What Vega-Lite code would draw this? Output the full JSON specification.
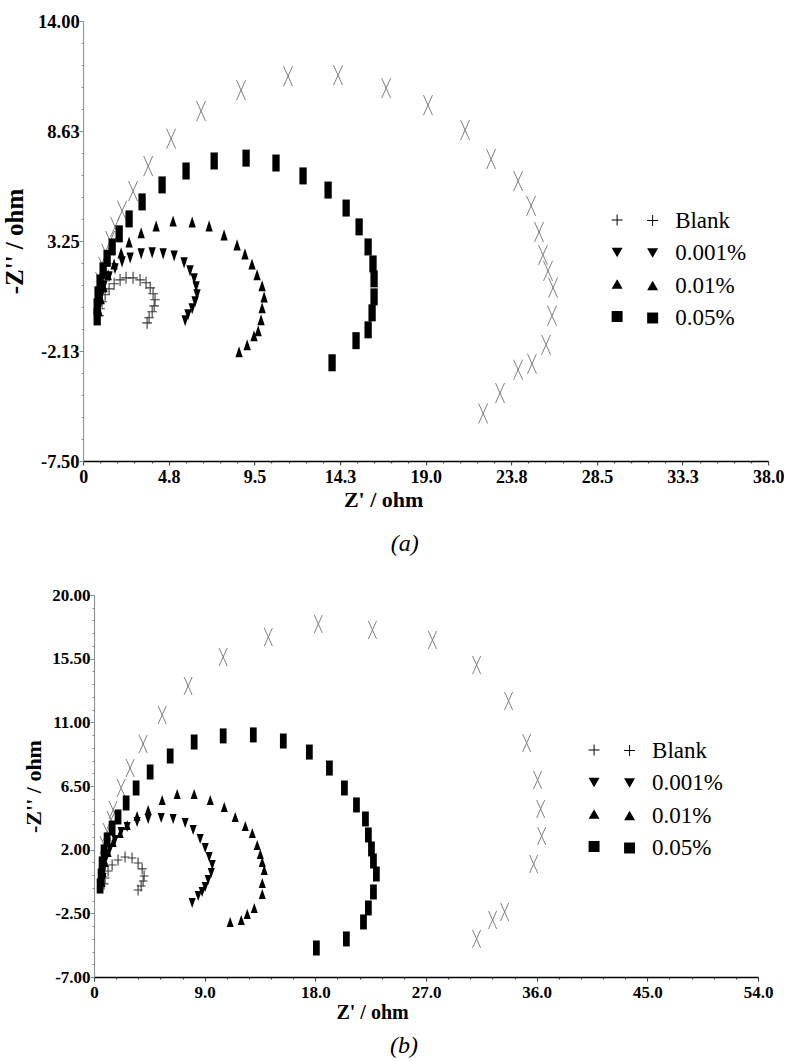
{
  "$schema": "https://vega.github.io/schema/vega-lite/v6.json",
  "padding": {"left": 2, "top": 12, "right": 0, "bottom": 0},
  "background": "white",
  "config": {"view": {"stroke": null}},
  "datasets": {
    "a": [
      {"s": "0.1%", "x": 0.94, "y": 1.25}, {"s": "0.1%", "x": 1.11, "y": 1.99}, {"s": "0.1%", "x": 1.28, "y": 2.62}, {"s": "0.1%", "x": 1.50, "y": 3.25}, {"s": "0.1%", "x": 1.77, "y": 3.94}, {"s": "0.1%", "x": 2.16, "y": 4.72}, {"s": "0.1%", "x": 2.77, "y": 5.69}, {"s": "0.1%", "x": 3.61, "y": 6.91}, {"s": "0.1%", "x": 4.88, "y": 8.25}, {"s": "0.1%", "x": 6.54, "y": 9.60}, {"s": "0.1%", "x": 8.76, "y": 10.62}, {"s": "0.1%", "x": 11.37, "y": 11.30}, {"s": "0.1%", "x": 14.14, "y": 11.35}, {"s": "0.1%", "x": 16.81, "y": 10.72}, {"s": "0.1%", "x": 19.13, "y": 9.89}, {"s": "0.1%", "x": 21.19, "y": 8.67}, {"s": "0.1%", "x": 22.63, "y": 7.25}, {"s": "0.1%", "x": 24.13, "y": 6.18}, {"s": "0.1%", "x": 24.85, "y": 4.97}, {"s": "0.1%", "x": 25.29, "y": 3.69}, {"s": "0.1%", "x": 25.51, "y": 2.57}, {"s": "0.1%", "x": 25.79, "y": 1.79}, {"s": "0.1%", "x": 26.07, "y": 0.97}, {"s": "0.1%", "x": 26.01, "y": -0.40}, {"s": "0.1%", "x": 25.68, "y": -1.82}, {"s": "0.1%", "x": 24.90, "y": -2.75}, {"s": "0.1%", "x": 24.13, "y": -3.04}, {"s": "0.1%", "x": 23.13, "y": -4.18}, {"s": "0.1%", "x": 22.19, "y": -5.18},
      {"s": "Blank", "x": 0.89, "y": -0.40}, {"s": "Blank", "x": 0.94, "y": -0.06}, {"s": "Blank", "x": 1.05, "y": 0.28}, {"s": "Blank", "x": 1.22, "y": 0.62}, {"s": "Blank", "x": 1.44, "y": 0.91}, {"s": "Blank", "x": 1.72, "y": 1.16}, {"s": "Blank", "x": 2.05, "y": 1.35}, {"s": "Blank", "x": 2.38, "y": 1.45}, {"s": "Blank", "x": 2.77, "y": 1.45}, {"s": "Blank", "x": 3.16, "y": 1.35}, {"s": "Blank", "x": 3.49, "y": 1.21}, {"s": "Blank", "x": 3.72, "y": 0.96}, {"s": "Blank", "x": 3.88, "y": 0.67}, {"s": "Blank", "x": 3.99, "y": 0.38}, {"s": "Blank", "x": 3.94, "y": 0.08}, {"s": "Blank", "x": 3.83, "y": -0.21}, {"s": "Blank", "x": 3.66, "y": -0.50}, {"s": "Blank", "x": 3.55, "y": -0.75},
      {"s": "0.001%", "x": 0.89, "y": 0.03}, {"s": "0.001%", "x": 1.00, "y": 0.57}, {"s": "0.001%", "x": 1.16, "y": 1.06}, {"s": "0.001%", "x": 1.44, "y": 1.50}, {"s": "0.001%", "x": 1.77, "y": 1.89}, {"s": "0.001%", "x": 2.16, "y": 2.23}, {"s": "0.001%", "x": 2.61, "y": 2.42}, {"s": "0.001%", "x": 3.22, "y": 2.62}, {"s": "0.001%", "x": 3.83, "y": 2.67}, {"s": "0.001%", "x": 4.44, "y": 2.62}, {"s": "0.001%", "x": 5.05, "y": 2.52}, {"s": "0.001%", "x": 5.60, "y": 2.18}, {"s": "0.001%", "x": 5.93, "y": 1.79}, {"s": "0.001%", "x": 6.16, "y": 1.40}, {"s": "0.001%", "x": 6.27, "y": 1.01}, {"s": "0.001%", "x": 6.32, "y": 0.62}, {"s": "0.001%", "x": 6.21, "y": 0.28}, {"s": "0.001%", "x": 6.05, "y": -0.06}, {"s": "0.001%", "x": 5.82, "y": -0.36}, {"s": "0.001%", "x": 5.66, "y": -0.65},
      {"s": "0.01%", "x": 0.89, "y": -0.16}, {"s": "0.01%", "x": 1.00, "y": 0.43}, {"s": "0.01%", "x": 1.16, "y": 1.01}, {"s": "0.01%", "x": 1.39, "y": 1.60}, {"s": "0.01%", "x": 1.72, "y": 2.13}, {"s": "0.01%", "x": 2.11, "y": 2.67}, {"s": "0.01%", "x": 2.55, "y": 3.20}, {"s": "0.01%", "x": 3.22, "y": 3.65}, {"s": "0.01%", "x": 4.05, "y": 3.99}, {"s": "0.01%", "x": 4.99, "y": 4.23}, {"s": "0.01%", "x": 6.05, "y": 4.18}, {"s": "0.01%", "x": 6.99, "y": 3.99}, {"s": "0.01%", "x": 7.82, "y": 3.55}, {"s": "0.01%", "x": 8.54, "y": 3.06}, {"s": "0.01%", "x": 8.98, "y": 2.62}, {"s": "0.01%", "x": 9.37, "y": 2.13}, {"s": "0.01%", "x": 9.65, "y": 1.60}, {"s": "0.01%", "x": 9.93, "y": 1.06}, {"s": "0.01%", "x": 10.04, "y": 0.52}, {"s": "0.01%", "x": 9.93, "y": -0.01}, {"s": "0.01%", "x": 9.87, "y": -0.60}, {"s": "0.01%", "x": 9.71, "y": -1.14}, {"s": "0.01%", "x": 9.48, "y": -1.38}, {"s": "0.01%", "x": 9.10, "y": -1.82}, {"s": "0.01%", "x": 8.65, "y": -2.16},
      {"s": "0.05%", "x": 0.78, "y": -0.46}, {"s": "0.05%", "x": 0.78, "y": 0.03}, {"s": "0.05%", "x": 0.83, "y": 0.62}, {"s": "0.05%", "x": 0.94, "y": 1.20}, {"s": "0.05%", "x": 1.11, "y": 1.79}, {"s": "0.05%", "x": 1.33, "y": 2.40}, {"s": "0.05%", "x": 1.61, "y": 2.96}, {"s": "0.05%", "x": 2.00, "y": 3.60}, {"s": "0.05%", "x": 2.55, "y": 4.33}, {"s": "0.05%", "x": 3.27, "y": 5.16}, {"s": "0.05%", "x": 4.38, "y": 5.99}, {"s": "0.05%", "x": 5.71, "y": 6.67}, {"s": "0.05%", "x": 7.27, "y": 7.16}, {"s": "0.05%", "x": 9.04, "y": 7.30}, {"s": "0.05%", "x": 10.70, "y": 7.06}, {"s": "0.05%", "x": 12.20, "y": 6.43}, {"s": "0.05%", "x": 13.59, "y": 5.74}, {"s": "0.05%", "x": 14.59, "y": 4.86}, {"s": "0.05%", "x": 15.31, "y": 3.94}, {"s": "0.05%", "x": 15.81, "y": 2.96}, {"s": "0.05%", "x": 16.08, "y": 2.13}, {"s": "0.05%", "x": 16.14, "y": 1.40}, {"s": "0.05%", "x": 16.14, "y": 0.52}, {"s": "0.05%", "x": 16.03, "y": -0.26}, {"s": "0.05%", "x": 15.81, "y": -1.09}, {"s": "0.05%", "x": 15.14, "y": -1.62}, {"s": "0.05%", "x": 13.81, "y": -2.70}
    ],
    "b": [
      {"s": "0.1%", "x": 0.81, "y": 2.33}, {"s": "0.1%", "x": 1.06, "y": 3.25}, {"s": "0.1%", "x": 1.38, "y": 4.10}, {"s": "0.1%", "x": 1.55, "y": 4.81}, {"s": "0.1%", "x": 2.20, "y": 6.36}, {"s": "0.1%", "x": 2.93, "y": 7.77}, {"s": "0.1%", "x": 3.99, "y": 9.47}, {"s": "0.1%", "x": 5.54, "y": 11.52}, {"s": "0.1%", "x": 7.65, "y": 13.57}, {"s": "0.1%", "x": 10.50, "y": 15.62}, {"s": "0.1%", "x": 14.17, "y": 17.03}, {"s": "0.1%", "x": 18.24, "y": 17.95}, {"s": "0.1%", "x": 22.64, "y": 17.53}, {"s": "0.1%", "x": 27.52, "y": 16.82}, {"s": "0.1%", "x": 31.11, "y": 15.05}, {"s": "0.1%", "x": 33.71, "y": 12.51}, {"s": "0.1%", "x": 35.18, "y": 9.54}, {"s": "0.1%", "x": 36.07, "y": 6.93}, {"s": "0.1%", "x": 36.32, "y": 4.88}, {"s": "0.1%", "x": 36.40, "y": 2.97}, {"s": "0.1%", "x": 35.75, "y": 0.99}, {"s": "0.1%", "x": 33.39, "y": -2.40}, {"s": "0.1%", "x": 32.41, "y": -2.97}, {"s": "0.1%", "x": 31.11, "y": -4.31},
      {"s": "Blank", "x": 0.81, "y": -0.42}, {"s": "Blank", "x": 0.90, "y": 0.00}, {"s": "Blank", "x": 1.14, "y": 0.49}, {"s": "Blank", "x": 1.47, "y": 0.92}, {"s": "Blank", "x": 1.95, "y": 1.27}, {"s": "Blank", "x": 2.52, "y": 1.48}, {"s": "Blank", "x": 3.09, "y": 1.41}, {"s": "Blank", "x": 3.58, "y": 1.06}, {"s": "Blank", "x": 3.91, "y": 0.64}, {"s": "Blank", "x": 4.07, "y": 0.14}, {"s": "Blank", "x": 3.99, "y": -0.21}, {"s": "Blank", "x": 3.83, "y": -0.57}, {"s": "Blank", "x": 3.58, "y": -0.85},
      {"s": "0.001%", "x": 0.73, "y": 0.00}, {"s": "0.001%", "x": 0.81, "y": 0.71}, {"s": "0.001%", "x": 0.98, "y": 1.41}, {"s": "0.001%", "x": 1.30, "y": 2.05}, {"s": "0.001%", "x": 1.71, "y": 2.69}, {"s": "0.001%", "x": 2.20, "y": 3.25}, {"s": "0.001%", "x": 2.69, "y": 3.60}, {"s": "0.001%", "x": 3.50, "y": 3.96}, {"s": "0.001%", "x": 4.40, "y": 4.17}, {"s": "0.001%", "x": 5.46, "y": 4.24}, {"s": "0.001%", "x": 6.43, "y": 4.17}, {"s": "0.001%", "x": 7.41, "y": 3.89}, {"s": "0.001%", "x": 8.06, "y": 3.39}, {"s": "0.001%", "x": 8.63, "y": 2.76}, {"s": "0.001%", "x": 9.04, "y": 2.12}, {"s": "0.001%", "x": 9.36, "y": 1.48}, {"s": "0.001%", "x": 9.61, "y": 0.92}, {"s": "0.001%", "x": 9.53, "y": 0.35}, {"s": "0.001%", "x": 9.28, "y": -0.14}, {"s": "0.001%", "x": 9.04, "y": -0.64}, {"s": "0.001%", "x": 8.79, "y": -0.99}, {"s": "0.001%", "x": 8.47, "y": -1.27}, {"s": "0.001%", "x": 7.98, "y": -1.77},
      {"s": "0.01%", "x": 0.65, "y": -0.28}, {"s": "0.01%", "x": 0.73, "y": 0.42}, {"s": "0.01%", "x": 0.90, "y": 1.13}, {"s": "0.01%", "x": 1.14, "y": 1.84}, {"s": "0.01%", "x": 1.55, "y": 2.54}, {"s": "0.01%", "x": 2.12, "y": 3.18}, {"s": "0.01%", "x": 2.69, "y": 3.75}, {"s": "0.01%", "x": 3.50, "y": 4.38}, {"s": "0.01%", "x": 4.40, "y": 4.81}, {"s": "0.01%", "x": 5.54, "y": 5.51}, {"s": "0.01%", "x": 6.76, "y": 5.94}, {"s": "0.01%", "x": 8.14, "y": 5.94}, {"s": "0.01%", "x": 9.45, "y": 5.51}, {"s": "0.01%", "x": 10.59, "y": 5.02}, {"s": "0.01%", "x": 11.48, "y": 4.31}, {"s": "0.01%", "x": 12.30, "y": 3.67}, {"s": "0.01%", "x": 12.87, "y": 3.18}, {"s": "0.01%", "x": 13.27, "y": 2.33}, {"s": "0.01%", "x": 13.52, "y": 1.70}, {"s": "0.01%", "x": 13.68, "y": 1.13}, {"s": "0.01%", "x": 13.84, "y": 0.57}, {"s": "0.01%", "x": 13.68, "y": -0.35}, {"s": "0.01%", "x": 13.68, "y": -1.13}, {"s": "0.01%", "x": 13.03, "y": -2.12}, {"s": "0.01%", "x": 12.46, "y": -2.54}, {"s": "0.01%", "x": 11.97, "y": -2.97}, {"s": "0.01%", "x": 11.07, "y": -3.11},
      {"s": "0.05%", "x": 0.49, "y": -0.57}, {"s": "0.05%", "x": 0.57, "y": 0.14}, {"s": "0.05%", "x": 0.65, "y": 0.99}, {"s": "0.05%", "x": 0.81, "y": 1.84}, {"s": "0.05%", "x": 1.06, "y": 2.69}, {"s": "0.05%", "x": 1.47, "y": 3.53}, {"s": "0.05%", "x": 1.95, "y": 4.31}, {"s": "0.05%", "x": 2.61, "y": 5.30}, {"s": "0.05%", "x": 3.42, "y": 6.36}, {"s": "0.05%", "x": 4.56, "y": 7.49}, {"s": "0.05%", "x": 6.19, "y": 8.62}, {"s": "0.05%", "x": 8.14, "y": 9.61}, {"s": "0.05%", "x": 10.50, "y": 10.04}, {"s": "0.05%", "x": 12.95, "y": 10.11}, {"s": "0.05%", "x": 15.39, "y": 9.68}, {"s": "0.05%", "x": 17.51, "y": 8.90}, {"s": "0.05%", "x": 19.14, "y": 7.77}, {"s": "0.05%", "x": 20.36, "y": 6.36}, {"s": "0.05%", "x": 21.34, "y": 5.16}, {"s": "0.05%", "x": 22.07, "y": 4.17}, {"s": "0.05%", "x": 22.31, "y": 3.04}, {"s": "0.05%", "x": 22.56, "y": 2.05}, {"s": "0.05%", "x": 22.72, "y": 1.20}, {"s": "0.05%", "x": 22.96, "y": 0.28}, {"s": "0.05%", "x": 22.72, "y": -0.99}, {"s": "0.05%", "x": 22.31, "y": -2.12}, {"s": "0.05%", "x": 21.91, "y": -3.11}, {"s": "0.05%", "x": 20.52, "y": -4.31}, {"s": "0.05%", "x": 18.08, "y": -4.95}
    ]
  },
  "spacing": 30,
  "center": true,
  "resolve": {"scale": {"x": "independent", "y": "independent", "shape": "independent"}},
  "vconcat": [
    {
      "width": 685,
      "height": 440,
      "data": {"name": "a"},
      "title": {"text": "(a)", "orient": "bottom", "anchor": "middle", "font": "Liberation Serif, Times New Roman, DejaVu Serif, serif", "fontStyle": "italic", "fontWeight": "normal", "fontSize": 24, "color": "black", "dx": -21, "offset": 22},
      "encoding": {
        "x": {"field": "x", "type": "quantitative", "scale": {"domain": [0, 38], "nice": false, "zero": false},
          "axis": {"title": "Z' / ohm", "grid": false,
            "values": [0, 0.95, 1.9, 2.85, 3.8, 4.75, 5.7, 6.65, 7.6, 8.55, 9.5, 10.45, 11.4, 12.35, 13.3, 14.25, 15.2, 16.15, 17.1, 18.05, 19, 19.95, 20.9, 21.85, 22.8, 23.75, 24.7, 25.65, 26.6, 27.55, 28.5, 29.45, 30.4, 31.35, 32.3, 33.25, 34.2, 35.15, 36.1, 37.05, 38],
            "labelExpr": "abs(datum.value/4.75 - round(datum.value/4.75)) < 0.001 ? (datum.value == 0 ? '0' : format(datum.value, '.1f')) : ''",
            "tickSize": {"condition": {"test": "abs(datum.value/4.75 - round(datum.value/4.75)) < 0.001", "value": 4}, "value": 2},
            "labelOverlap": false, "labelFlush": false, "labelBound": false,
            "labelFont": "Liberation Serif, Times New Roman, DejaVu Serif, serif", "labelFontWeight": "bold", "labelFontSize": 18, "labelColor": "black", "labelPadding": 3,
            "titleFont": "Liberation Serif, Times New Roman, DejaVu Serif, serif", "titleFontWeight": "bold", "titleFontSize": 22, "titleColor": "black", "titleX": 300, "titlePadding": 3,
            "domainColor": "black", "domainWidth": 1.5, "tickColor": "#333333", "tickWidth": 1}},
        "y": {"field": "y", "type": "quantitative", "scale": {"domain": [-7.5, 14], "nice": false, "zero": false},
          "axis": {"title": "-Z'' / ohm", "grid": false,
            "values": [-7.5, -6.425, -5.35, -4.275, -3.2, -2.125, -1.05, 0.025, 1.1, 2.175, 3.25, 4.325, 5.4, 6.475, 7.55, 8.625, 9.7, 10.775, 11.85, 12.925, 14],
            "labelExpr": "abs((datum.value+7.5)/5.375 - round((datum.value+7.5)/5.375)) < 0.001 ? (datum.value < 0 ? '-' : '') + format(abs(datum.value), '.2f') : ''",
            "tickSize": {"condition": {"test": "abs((datum.value+7.5)/5.375 - round((datum.value+7.5)/5.375)) < 0.001", "value": 4}, "value": 2},
            "labelOverlap": false, "labelFlush": false, "labelBound": false,
            "labelFont": "Liberation Serif, Times New Roman, DejaVu Serif, serif", "labelFontWeight": "bold", "labelFontSize": 18.5, "labelColor": "black", "labelPadding": 0,
            "titleFont": "Liberation Serif, Times New Roman, DejaVu Serif, serif", "titleFontWeight": "bold", "titleFontSize": 25, "titleColor": "black", "titlePadding": 10,
            "domainColor": "#888888", "tickColor": "#888888"}}
      },
      "resolve": {"scale": {"shape": "independent"}, "legend": {"shape": "independent"}},
      "layer": [
        {"transform": [{"filter": "datum.s == '0.1%'"}],
          "mark": {"type": "point", "shape": "M-0.45,-1L0.45,1M0.45,-1L-0.45,1", "size": 400, "filled": false, "color": "#808080", "strokeWidth": 1, "opacity": 1}},
        {"transform": [{"filter": "datum.s == 'Blank'"}],
          "mark": {"type": "point", "shape": "M-0.8,0L0.8,0M0,-1L0,1", "size": 144, "filled": false, "color": "#383838", "strokeWidth": 1.1, "opacity": 1}},
        {"transform": [{"filter": "datum.s == '0.001%' || datum.s == '0.01%' || datum.s == '0.05%'"}],
          "mark": {"type": "point", "filled": true, "color": "black", "size": 289, "opacity": 1, "strokeWidth": 0},
          "encoding": {"shape": {"field": "s", "type": "nominal", "legend": null,
            "scale": {"domain": ["0.001%", "0.01%", "0.05%"], "range": ["M-0.43,-0.65L0.43,-0.65L0,0.65Z", "M0,-0.65L0.43,0.65L-0.43,0.65Z", "M-0.43,-1L0.43,-1L0.43,1L-0.43,1Z"]}}}},
        {"transform": [{"filter": "datum.s != '0.1%'"}],
          "mark": {"type": "point", "filled": true, "color": "black", "opacity": 0},
          "encoding": {"shape": {"field": "s", "type": "nominal",
            "scale": {"domain": ["Blank", "0.001%", "0.01%", "0.05%"], "range": ["M-1,-0.09L-0.09,-0.09L-0.09,-1L0.09,-1L0.09,-0.09L1,-0.09L1,0.09L0.09,0.09L0.09,1L-0.09,1L-0.09,0.09L-1,0.09Z", "triangle-down", "triangle-up", "square"]},
            "legend": {"orient": "none", "legendX": 528, "legendY": 193, "direction": "vertical", "title": null, "labelExpr": "''", "labelFontSize": 1,
              "symbolSize": 120, "symbolFillColor": "black", "symbolStrokeColor": "black", "symbolStrokeWidth": 0.5, "symbolOpacity": 1, "rowPadding": 19.5, "padding": 0, "labelOffset": 0}}}},
        {"transform": [{"filter": "datum.s != '0.1%'"}],
          "mark": {"type": "point", "filled": true, "color": "black", "opacity": 0},
          "encoding": {"shape": {"field": "s", "type": "nominal",
            "scale": {"domain": ["Blank", "0.001%", "0.01%", "0.05%"], "range": ["M-1,-0.09L-0.09,-0.09L-0.09,-1L0.09,-1L0.09,-0.09L1,-0.09L1,0.09L0.09,0.09L0.09,1L-0.09,1L-0.09,0.09L-1,0.09Z", "triangle-down", "triangle-up", "square"]},
            "legend": {"orient": "none", "legendX": 558, "legendY": 188, "direction": "vertical", "title": null,
              "labelFont": "Liberation Serif, Times New Roman, DejaVu Serif, serif", "labelFontSize": 23, "labelColor": "black", "labelOffset": 11,
              "symbolSize": 120, "symbolFillColor": "black", "symbolStrokeColor": "black", "symbolStrokeWidth": 0.5, "symbolOpacity": 1, "rowPadding": 8.5, "padding": 0}}}}
      ]
    },
    {
      "width": 664,
      "height": 382,
      "data": {"name": "b"},
      "title": {"text": "(b)", "orient": "bottom", "anchor": "middle", "font": "Liberation Serif, Times New Roman, DejaVu Serif, serif", "fontStyle": "italic", "fontWeight": "normal", "fontSize": 24, "color": "black", "dx": -22, "offset": 12},
      "encoding": {
        "x": {"field": "x", "type": "quantitative", "scale": {"domain": [0, 54], "nice": false, "zero": false},
          "axis": {"title": "Z' / ohm", "grid": false,
            "values": [0, 1.8, 3.6, 5.4, 7.2, 9, 10.8, 12.6, 14.4, 16.2, 18, 19.8, 21.6, 23.4, 25.2, 27, 28.8, 30.6, 32.4, 34.2, 36, 37.8, 39.6, 41.4, 43.2, 45, 46.8, 48.6, 50.4, 52.2, 54],
            "labelExpr": "abs(datum.value/9 - round(datum.value/9)) < 0.001 ? (datum.value == 0 ? '0' : format(datum.value, '.1f')) : ''",
            "tickSize": {"condition": {"test": "abs(datum.value/9 - round(datum.value/9)) < 0.001", "value": 4}, "value": 2},
            "labelOverlap": false, "labelFlush": false, "labelBound": false,
            "labelFont": "Liberation Serif, Times New Roman, DejaVu Serif, serif", "labelFontWeight": "bold", "labelFontSize": 17, "labelColor": "black", "labelPadding": 3,
            "titleFont": "Liberation Serif, Times New Roman, DejaVu Serif, serif", "titleFontWeight": "bold", "titleFontSize": 20, "titleColor": "black", "titleX": 278, "titlePadding": 2,
            "domainColor": "black", "domainWidth": 1.5, "tickColor": "#333333", "tickWidth": 1}},
        "y": {"field": "y", "type": "quantitative", "scale": {"domain": [-7, 20], "nice": false, "zero": false},
          "axis": {"title": "-Z'' / ohm", "grid": false,
            "values": [-7, -6.1, -5.2, -4.3, -3.4, -2.5, -1.6, -0.7, 0.2, 1.1, 2, 2.9, 3.8, 4.7, 5.6, 6.5, 7.4, 8.3, 9.2, 10.1, 11, 11.9, 12.8, 13.7, 14.6, 15.5, 16.4, 17.3, 18.2, 19.1, 20],
            "labelExpr": "abs((datum.value+7)/4.5 - round((datum.value+7)/4.5)) < 0.001 ? (datum.value < 0 ? '-' : '') + format(abs(datum.value), '.2f') : ''",
            "tickSize": {"condition": {"test": "abs((datum.value+7)/4.5 - round((datum.value+7)/4.5)) < 0.001", "value": 4}, "value": 2},
            "labelOverlap": false, "labelFlush": false, "labelBound": false,
            "labelFont": "Liberation Serif, Times New Roman, DejaVu Serif, serif", "labelFontWeight": "bold", "labelFontSize": 17, "labelColor": "black", "labelPadding": 0,
            "titleFont": "Liberation Serif, Times New Roman, DejaVu Serif, serif", "titleFontWeight": "bold", "titleFontSize": 22, "titleColor": "black", "titlePadding": 6,
            "domainColor": "#888888", "tickColor": "#888888"}}
      },
      "resolve": {"scale": {"shape": "independent"}, "legend": {"shape": "independent"}},
      "layer": [
        {"transform": [{"filter": "datum.s == '0.1%'"}],
          "mark": {"type": "point", "shape": "M-0.45,-1L0.45,1M0.45,-1L-0.45,1", "size": 324, "filled": false, "color": "#808080", "strokeWidth": 1, "opacity": 1}},
        {"transform": [{"filter": "datum.s == 'Blank'"}],
          "mark": {"type": "point", "shape": "M-0.8,0L0.8,0M0,-1L0,1", "size": 121, "filled": false, "color": "#383838", "strokeWidth": 1.1, "opacity": 1}},
        {"transform": [{"filter": "datum.s == '0.001%' || datum.s == '0.01%' || datum.s == '0.05%'"}],
          "mark": {"type": "point", "filled": true, "color": "black", "size": 225, "opacity": 1, "strokeWidth": 0},
          "encoding": {"shape": {"field": "s", "type": "nominal", "legend": null,
            "scale": {"domain": ["0.001%", "0.01%", "0.05%"], "range": ["M-0.47,-0.67L0.47,-0.67L0,0.67Z", "M0,-0.67L0.47,0.67L-0.47,0.67Z", "M-0.45,-1L0.45,-1L0.45,1L-0.45,1Z"]}}}},
        {"transform": [{"filter": "datum.s != '0.1%'"}],
          "mark": {"type": "point", "filled": true, "color": "black", "opacity": 0},
          "encoding": {"shape": {"field": "s", "type": "nominal",
            "scale": {"domain": ["Blank", "0.001%", "0.01%", "0.05%"], "range": ["M-1,-0.09L-0.09,-0.09L-0.09,-1L0.09,-1L0.09,-0.09L1,-0.09L1,0.09L0.09,0.09L0.09,1L-0.09,1L-0.09,0.09L-1,0.09Z", "triangle-down", "triangle-up", "square"]},
            "legend": {"orient": "none", "legendX": 494, "legendY": 149, "direction": "vertical", "title": null, "labelExpr": "''", "labelFontSize": 1,
              "symbolSize": 120, "symbolFillColor": "black", "symbolStrokeColor": "black", "symbolStrokeWidth": 0.5, "symbolOpacity": 1, "rowPadding": 19.5, "padding": 0, "labelOffset": 0}}}},
        {"transform": [{"filter": "datum.s != '0.1%'"}],
          "mark": {"type": "point", "filled": true, "color": "black", "opacity": 0},
          "encoding": {"shape": {"field": "s", "type": "nominal",
            "scale": {"domain": ["Blank", "0.001%", "0.01%", "0.05%"], "range": ["M-1,-0.09L-0.09,-0.09L-0.09,-1L0.09,-1L0.09,-0.09L1,-0.09L1,0.09L0.09,0.09L0.09,1L-0.09,1L-0.09,0.09L-1,0.09Z", "triangle-down", "triangle-up", "square"]},
            "legend": {"orient": "none", "legendX": 524, "legendY": 144, "direction": "vertical", "title": null,
              "labelFont": "Liberation Serif, Times New Roman, DejaVu Serif, serif", "labelFontSize": 23, "labelColor": "black", "labelOffset": 11,
              "symbolSize": 120, "symbolFillColor": "black", "symbolStrokeColor": "black", "symbolStrokeWidth": 0.5, "symbolOpacity": 1, "rowPadding": 8.5, "padding": 0}}}}
      ]
    }
  ]
}
